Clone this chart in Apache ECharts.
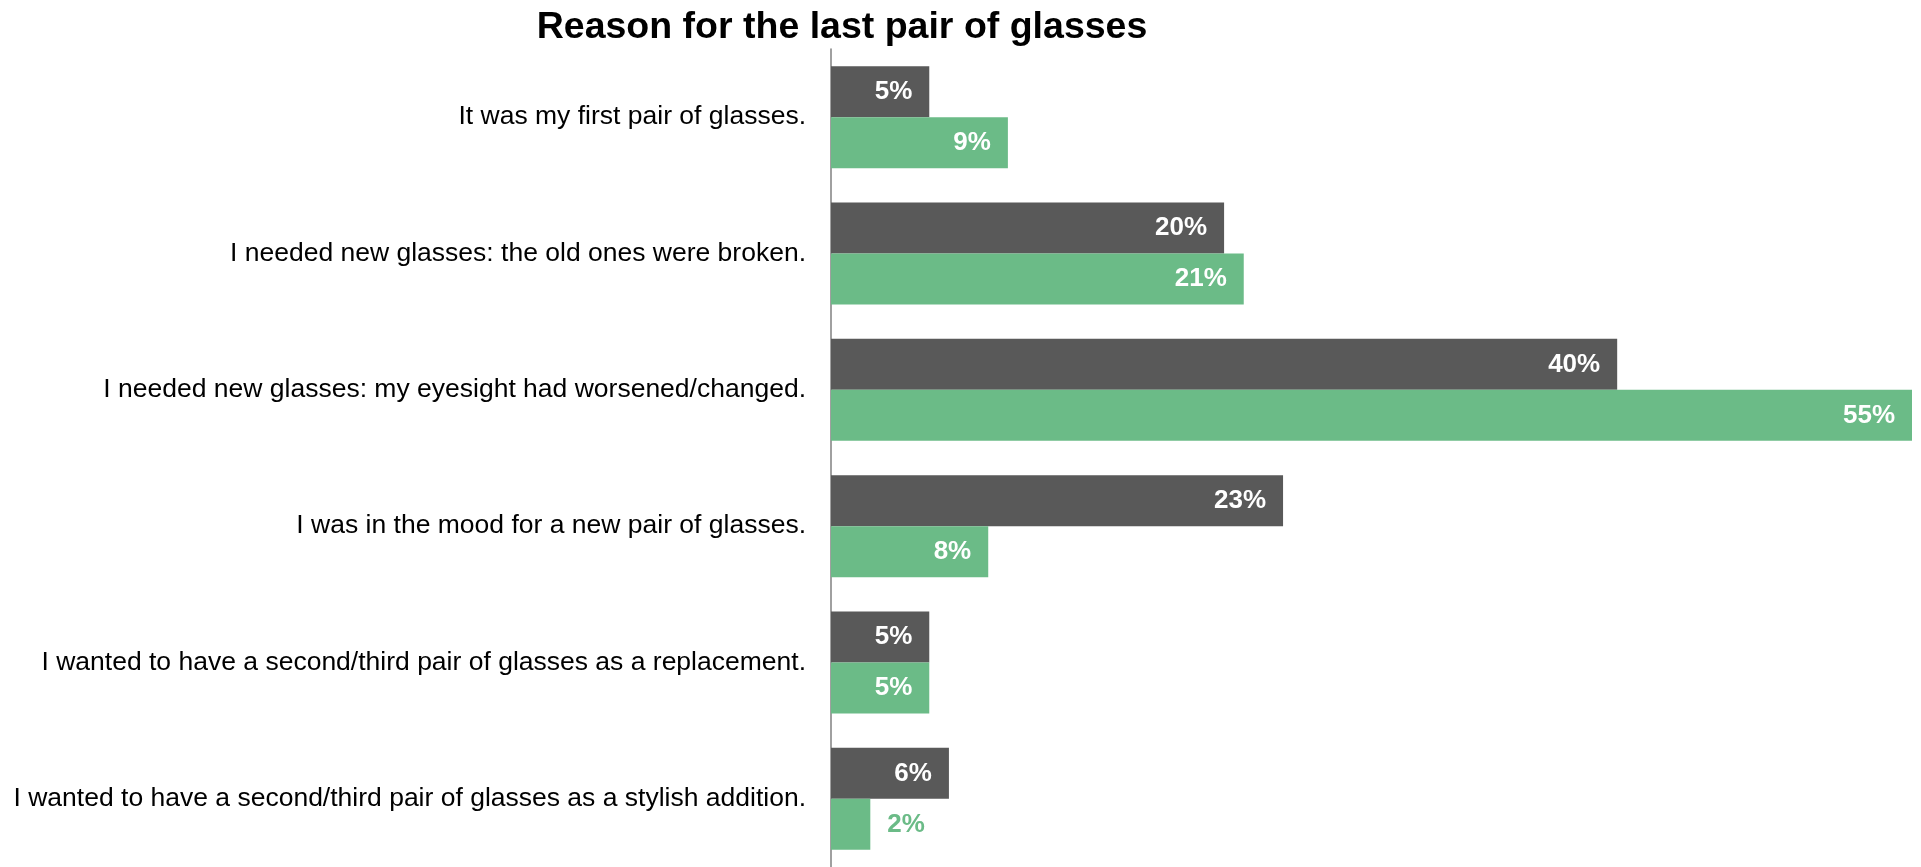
<!DOCTYPE html>
<html>
<head>
<meta charset="utf-8">
<script src="https://cdn.jsdelivr.net/npm/echarts@6/dist/echarts.min.js"></script>
<style>
  html, body { margin: 0; padding: 0; background: #ffffff; }
  #chart { width: 1921px; height: 867px; }
</style>
</head>
<body>
<div id="chart"></div>
<script>
// Survey answers, top to bottom
const categories = [
  'It was my first pair of glasses.',
  'I needed new glasses: the old ones were broken.',
  'I needed new glasses: my eyesight had worsened/changed.',
  'I was in the mood for a new pair of glasses.',
  'I wanted to have a second/third pair of glasses as a replacement.',
  'I wanted to have a second/third pair of glasses as a stylish addition.'
];
// Share of respondents (%) for each group
const groupDark = [5, 20, 40, 23, 5, 6];
const groupGreen = [9, 21, 55, 8, 5, 2];

const DARK = '#595959';
const GREEN = '#6bbb87';
const FONT = '"Liberation Sans", Arial, sans-serif';

const chart = echarts.init(document.getElementById('chart'), null, { renderer: 'canvas' });

// Values too small to hold their label inside the bar get it outside, in the bar colour
function barData(values, color) {
  return values.map(v => {
    const inside = v >= 4;
    return {
      value: v,
      label: inside
        ? { position: 'insideRight', distance: 17, color: '#ffffff' }
        : { position: 'right', distance: 17, color: color }
    };
  });
}

const labelStyle = {
  show: true,
  formatter: p => p.value + '%',
  fontFamily: FONT,
  fontWeight: 'bold',
  fontSize: 26
};

chart.setOption({
  animation: false,
  backgroundColor: '#ffffff',
  title: {
    text: 'Reason for the last pair of glasses',
    left: 837,
    textAlign: 'center',
    top: 4,
    textStyle: { fontFamily: FONT, fontWeight: 'bold', fontSize: 37.5, color: '#000000' }
  },
  grid: { left: 831, right: 9, top: 49, bottom: -6, containLabel: false },
  xAxis: {
    type: 'value',
    min: 0,
    max: 55,
    show: false
  },
  yAxis: {
    type: 'category',
    inverse: true,
    data: categories,
    axisLine: { show: true, lineStyle: { color: '#808080', width: 1.5 } },
    axisTick: { show: false },
    axisLabel: {
      margin: 25,
      fontFamily: FONT,
      fontSize: 26.5,
      color: '#000000'
    }
  },
  series: [
    {
      name: 'group A',
      type: 'bar',
      barWidth: 51,
      barGap: '0%',
      itemStyle: { color: DARK },
      label: labelStyle,
      data: barData(groupDark, DARK)
    },
    {
      name: 'group B',
      type: 'bar',
      barWidth: 51,
      barGap: '0%',
      itemStyle: { color: GREEN },
      label: labelStyle,
      data: barData(groupGreen, GREEN)
    }
  ]
});
</script>
</body>
</html>
